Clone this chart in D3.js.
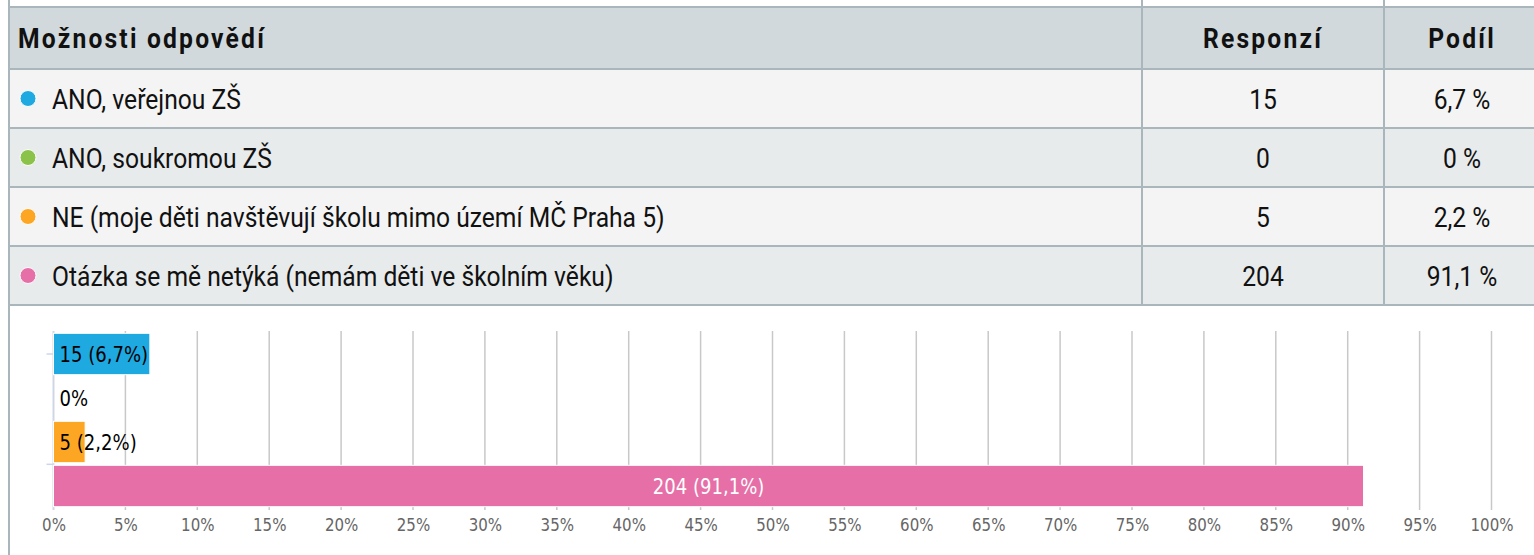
<!DOCTYPE html>
<html>
<head>
<meta charset="utf-8">
<script src="https://cdn.jsdelivr.net/npm/d3@7"></script>
<style>
  html, body { margin: 0; padding: 0; background: #fff; overflow: hidden; }
  .tbl text { font-family: Roboto, "DejaVu Sans Condensed", sans-serif; fill: #111; }
  .chart text { font-family: "DejaVu Sans", sans-serif; }
</style>
</head>
<body>
<div id="root"></div>
<script>
// data
const headers = ["Možnosti odpovědí", "Responzí", "Podíl"]
const categories = [
    "ANO, veřejnou ZŠ",
    "ANO, soukromou ZŠ",
    "NE (moje děti navštěvují školu mimo území MČ Praha 5)",
    "Otázka se mě netýká (nemám děti ve školním věku)"
]
const responses = [15, 0, 5, 204]
const shares = [6.7, 0, 2.2, 91.1]
const colors = ["#1fa9e1", "#8bc34a", "#fda624", "#e66fa8"]
const xTickValues = [0, 5, 10, 15, 20, 25, 30, 35, 40, 45, 50, 55, 60, 65, 70, 75, 80, 85, 90, 95, 100]

const width = 1534
const height = 555

// the source picture is squeezed sideways, so texts are too
const tblSquash = 0.88
const chartSquash = 0.86

const fmt = v => String(v).replace(".", ",")

const svg = d3.select("#root").append("svg")
    .attr("width", width)
    .attr("height", height)

// ---- table ----
const border = "#a9b7bd"
const tableLeft = 9, tableTop = 7, headH = 62, tableRight = 1545
const colEdges = [tableLeft, 1142, 1384, tableRight]
const colMid = [18, (colEdges[1] + colEdges[2]) / 2, 1462]

const rowY = d3.scaleBand()
    .domain(d3.range(categories.length))
    .range([tableTop + headH, 305])

const tbl = svg.append("g").attr("class", "tbl")

tbl.append("rect")
    .attr("x", tableLeft).attr("y", tableTop)
    .attr("width", tableRight - tableLeft).attr("height", headH)
    .attr("fill", "#d1d9dc")

tbl.selectAll("rect.row")
    .data(categories)
    .join("rect")
    .attr("class", "row")
    .attr("x", tableLeft)
    .attr("y", (d, i) => rowY(i))
    .attr("width", tableRight - tableLeft)
    .attr("height", rowY.bandwidth())
    .attr("fill", (d, i) => i % 2 ? "#e8ebec" : "#f4f4f4")

// horizontal lines
const hLines = [tableTop, tableTop + headH].concat(categories.map((d, i) => rowY(i) + rowY.bandwidth()))
tbl.selectAll("line.h")
    .data(hLines)
    .join("line")
    .attr("x1", tableLeft).attr("x2", tableRight)
    .attr("y1", d => d).attr("y2", d => d)
    .attr("stroke", border).attr("stroke-width", 2)

// vertical lines
tbl.selectAll("line.v")
    .data(colEdges.slice(1, 3))
    .join("line")
    .attr("x1", d => d).attr("x2", d => d)
    .attr("y1", 0).attr("y2", 305)
    .attr("stroke", border).attr("stroke-width", 2)

// left frame runs down through the chart area
tbl.append("line")
    .attr("x1", tableLeft).attr("x2", tableLeft)
    .attr("y1", 0).attr("y2", height)
    .attr("stroke", border).attr("stroke-width", 2)

function cellText(sel, x, y, anchor) {
    return sel.append("text")
        .attr("transform", `translate(${x},${y}) scale(${tblSquash},1)`)
        .attr("text-anchor", anchor)
        .attr("font-size", 28)
}

// header texts
const headMid = tableTop + headH / 2
headers.forEach((h, i) => {
    cellText(tbl, colMid[i], headMid + 10, i === 0 ? "start" : "middle")
        .attr("font-weight", "bold")
        .attr("letter-spacing", 2.5)
        .text(h)
})

// body rows
const rows = tbl.selectAll("g.r")
    .data(categories)
    .join("g")
    .attr("transform", (d, i) => `translate(0,${rowY(i) + rowY.bandwidth() / 2})`)

rows.append("circle")
    .attr("cx", 28).attr("cy", 0).attr("r", 8)
    .attr("fill", (d, i) => colors[i])
    .attr("stroke", "#fff").attr("stroke-width", 1)

rows.each(function (d, i) {
    const g = d3.select(this)
    cellText(g, 52, 10, "start").text(d)
    cellText(g, colMid[1], 10, "middle").text(responses[i])
    cellText(g, colMid[2], 10, "middle").text(fmt(shares[i]) + " %")
})

// ---- bar chart ----
const x = d3.scaleLinear().domain([0, 100]).range([53.5, 1491.5])
const y = d3.scaleBand()
    .domain(categories)
    .range([332, 508])
    .paddingInner(0.06)
    .paddingOuter(0.03)

const chart = svg.append("g").attr("class", "chart")

// grid
chart.append("g")
    .selectAll("line")
    .data(xTickValues)
    .join("line")
    .attr("x1", d => x(d)).attr("x2", d => x(d))
    .attr("y1", 331).attr("y2", 510)
    .attr("stroke", "#c8c8c8").attr("stroke-width", 1.5)

// x axis labels
const xAxis = chart.append("g")
    .attr("transform", "translate(0,510)")
    .call(d3.axisBottom(x).tickValues(xTickValues).tickSize(0).tickPadding(9).tickFormat(d => d + "%"))
xAxis.select(".domain").remove()
xAxis.selectAll("text")
    .attr("font-size", 17.5)
    .attr("font-family", "DejaVu Sans, sans-serif")
    .attr("fill", "#666")
    .attr("transform", `scale(${chartSquash},1)`)

// y axis line and its two marks
const axisCol = "#ccd6eb"
chart.append("line")
    .attr("x1", x(0)).attr("x2", x(0))
    .attr("y1", 331).attr("y2", 510)
    .attr("stroke", axisCol).attr("stroke-width", 1.5)
const yMarks = [y(categories[0]) + y.bandwidth() / 2, y(categories[3]) - 1]
chart.selectAll("line.ym")
    .data(yMarks)
    .join("line")
    .attr("x1", x(0) - 7).attr("x2", x(0))
    .attr("y1", d => d).attr("y2", d => d)
    .attr("stroke", axisCol).attr("stroke-width", 1.5)

// bars
chart.append("g")
    .selectAll("rect")
    .data(categories)
    .join("rect")
    .attr("x", x(0))
    .attr("y", d => y(d))
    .attr("width", (d, i) => x(shares[i]) - x(0))
    .attr("height", y.bandwidth())
    .attr("fill", (d, i) => colors[i])
    .attr("stroke", (d, i) => shares[i] > 0 ? "#fff" : "none")
    .attr("stroke-width", 1)

// bar labels
const inside = i => shares[i] > 20
chart.append("g")
    .selectAll("text")
    .data(categories)
    .join("text")
    .attr("transform", (d, i) => {
        const lx = inside(i) ? (x(0) + x(shares[i])) / 2 : x(0) + 6
        return `translate(${lx},${y(d) + y.bandwidth() / 2}) scale(${chartSquash},1)`
    })
    .attr("dy", "0.36em")
    .attr("text-anchor", (d, i) => inside(i) ? "middle" : "start")
    .attr("font-size", 21)
    .attr("fill", (d, i) => inside(i) ? "#fff" : "#000")
    .text((d, i) => responses[i] > 0 ? `${responses[i]} (${fmt(shares[i])}%)` : "0%")
</script>
</body>
</html>
